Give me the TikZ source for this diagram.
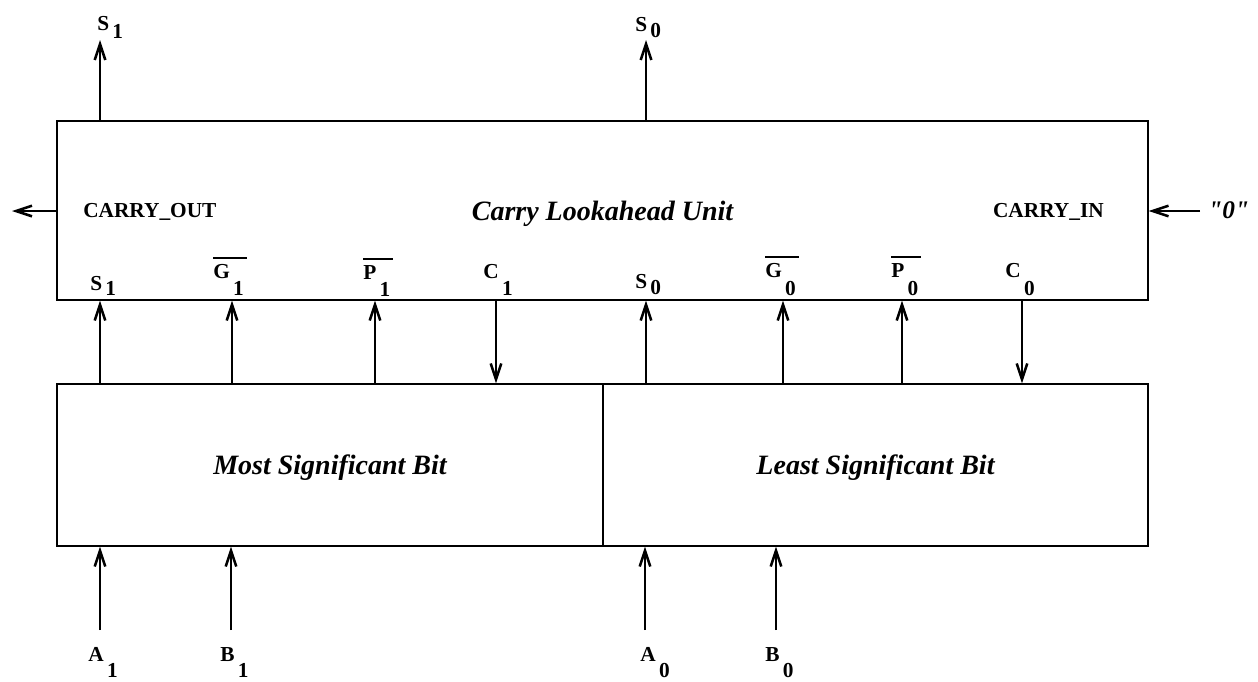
\documentclass[tikz,border=0pt]{standalone}
\usepackage{fontspec}
\setmainfont{Liberation Serif}
\newfontfamily\quotefont{Liberation Serif}[Ligatures=TeXOff]
\usetikzlibrary{arrows.meta}
\newcommand{\newSig}[5]{\node[sig](#1) at (#5) {#2\kern2.5pt\raisebox{-#4}{#3}};}
\newcommand{\newBar}[1]{\draw[bar] ([yshift=4pt]#1.north west) -- ([yshift=4pt,xshift=2pt]#1.north east);}
\newcommand{\newWire}[3]{\draw[wire] (#1 -| #3) -- (#2 -| #3);}

\begin{document}
\begin{tikzpicture}[
    % pixel grid of the drawing
    x=0.75pt, y=-0.75pt,
    % Default arrow tip
    >={Straight Barb[length=12pt,width=8pt]},
    % boxes and labels
    unit/.style={draw, line width=0.8pt, inner sep=0pt, text depth=0pt,
      font=\fontsize{21}{25}\selectfont\bfseries\itshape},
    sig/.style={anchor=base west, inner sep=0pt,
      font=\fontsize{16}{19}\selectfont\bfseries},
    wire/.style={->, line width=1.9pt},
    bar/.style={line width=1.5pt}
    ]
    \useasboundingbox (0,0) rectangle (1258,682);

    \node[unit, minimum width=818.25pt, minimum height=134.25pt] (clu) at (602.5,210.5) {Carry Lookahead Unit};
    \node[unit, minimum width=409.5pt, minimum height=121.5pt] (msb) at (330,465) {Most Significant Bit};
    \node[unit, minimum width=408.75pt, minimum height=121.5pt] (lsb) at (875.5,465) {Least Significant Bit};

    \node[sig] (cout) at (83,217) {CARRY\_OUT};
    \node[sig, anchor=base east] (cin) at (1104,217) {CARRY\_IN};
    \node[sig, font=\fontsize{19}{22}\selectfont\quotefont\bfseries\itshape] (zero) at (1208,218) {"0"};

    \newSig{s1out}{S}{1}{6pt}{97,30}
    \newSig{s0out}{S}{0}{5pt}{635,31}
    \newSig{s1in}{S}{1}{4pt}{90,290}
    \newSig{g1}{G}{1}{13pt}{213,278}
    \newSig{p1}{P}{1}{13pt}{363,279}
    \newSig{c1}{C}{1}{13pt}{483,278}
    \newSig{s0in}{S}{0}{5pt}{635,288}
    \newSig{g0}{G}{0}{13.5pt}{765,277}
    \newSig{p0}{P}{0}{13.5pt}{891,277}
    \newSig{c0}{C}{0}{13.5pt}{1005,277}
    \newSig{a1}{A}{1}{12.5pt}{88,661}
    \newSig{b1}{B}{1}{12.5pt}{220,661}
    \newSig{a0}{A}{0}{12.5pt}{640,661}
    \newSig{b0}{B}{0}{12.5pt}{765,661}

    \newBar{g1}
    \newBar{p1}
    \newBar{g0}
    \newBar{p0}

    % wire positions
    \foreach \n/\x in {S1/100,G1/232,P1/375,C1/496,S0/646,G0/783,P0/902,C0/1022,A1/100,B1/231,A0/645,B0/776}
      \coordinate (x\n) at (\x,0);
    \coordinate (topend) at (0,40);
    \coordinate (botend) at (0,630);
    \coordinate (leftend) at (12,211);
    \coordinate (rightend) at (1200,211);

    % sums out
    \newWire{clu.north}{topend}{xS1}
    \newWire{clu.north}{topend}{xS0}
    % into the unit
    \newWire{msb.north}{clu.south}{xS1}
    \newWire{msb.north}{clu.south}{xG1}
    \newWire{msb.north}{clu.south}{xP1}
    \newWire{lsb.north}{clu.south}{xS0}
    \newWire{lsb.north}{clu.south}{xG0}
    \newWire{lsb.north}{clu.south}{xP0}
    % carries back
    \newWire{clu.south}{msb.north}{xC1}
    \newWire{clu.south}{lsb.north}{xC0}
    % operands
    \newWire{botend}{msb.south}{xA1}
    \newWire{botend}{msb.south}{xB1}
    \newWire{botend}{lsb.south}{xA0}
    \newWire{botend}{lsb.south}{xB0}
    % carry chain ends
    \draw[wire] (clu.west |- leftend) -- (leftend);
    \draw[wire] (rightend) -- (rightend -| clu.east);
\end{tikzpicture}
\end{document}
